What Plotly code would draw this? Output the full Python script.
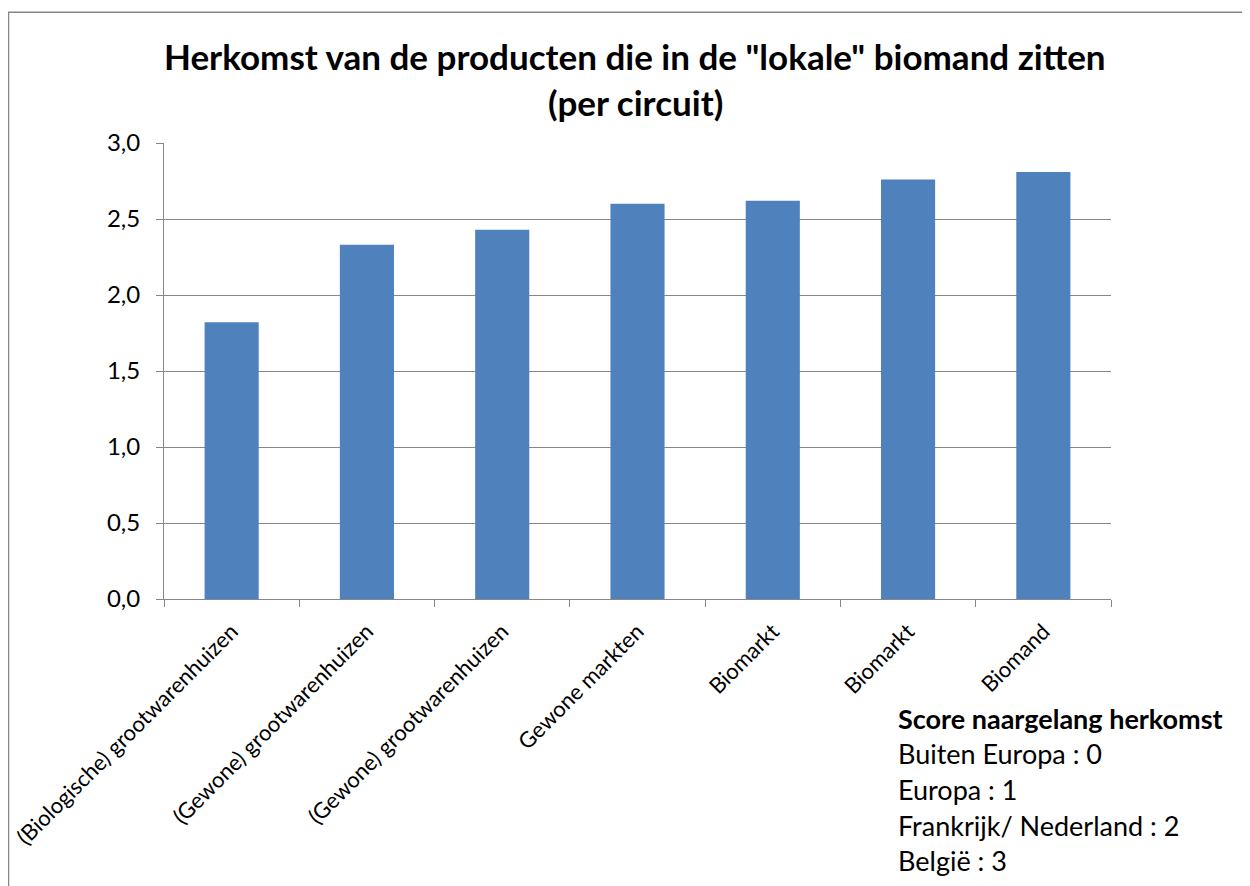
import plotly.graph_objects as go

categories = [
    "(Biologische) grootwarenhuizen",
    "(Gewone) grootwarenhuizen",
    "(Gewone) grootwarenhuizen",
    "Gewone markten",
    "Biomarkt",
    "Biomarkt",
    "Biomand",
]
values = [1.82, 2.33, 2.43, 2.60, 2.62, 2.76, 2.81]
y_ticks = [0.0, 0.5, 1.0, 1.5, 2.0, 2.5, 3.0]
title_lines = ['Herkomst van de producten die in de "lokale" biomand zitten', "(per circuit)"]
note_title = "Score naargelang herkomst"
note_lines = ["Buiten Europa : 0", "Europa : 1", "Frankrijk/ Nederland : 2", "België : 3"]

FONT = "Lato"
GRID = "#878787"
positions = list(range(len(categories)))
boundaries = [p - 0.5 for p in positions] + [positions[-1] + 0.5]

# page offset (browser body margin)
OFF = 8
W, H = 1242, 878
PL, PR, PT, PB = 164, 1111, 142.5, 599.5  # plot area in page pixels
L, T = PL - OFF, PT - OFF
R = W - (PR - OFF)
B = H - (PB - OFF)
pw, ph = W - L - R, H - T - B


def px_x(x):
    # x given in page (screenshot) pixels
    return (x - OFF - L) / pw


def px_y(y):
    return (H - B - (y - OFF)) / ph


fig = go.Figure(
    go.Bar(
        x=positions,
        y=values,
        marker=dict(color="#4F81BD", line=dict(width=0)),
        width=0.40,
    )
)

fig.update_layout(
    width=W,
    height=H,
    margin=dict(l=L, r=R, t=T, b=B, pad=0, autoexpand=False),
    paper_bgcolor="white",
    plot_bgcolor="white",
    separators=",.",
    showlegend=False,
    font=dict(family=FONT, color="black"),
    xaxis=dict(
        automargin=False,
        range=[-0.5, len(categories) - 0.5],
        tickmode="array",
        tickvals=positions,
        ticktext=categories,
        tickangle=-45,
        ticks="",
        ticklabelstandoff=10,
        ticklabeloverflow="allow",
        showgrid=False,
        showline=True,
        linecolor=GRID,
        linewidth=1,
        tickfont=dict(family=FONT, size=22, color="black"),
        minor=dict(tickmode="array", tickvals=boundaries, ticks="outside", ticklen=7,
                   tickcolor=GRID, tickwidth=1, showgrid=False),
        zeroline=False,
    ),
    yaxis=dict(
        automargin=False,
        range=[0, 3.0],
        tickmode="array",
        tickvals=y_ticks,
        tickformat=".1f",
        ticks="outside",
        ticklen=7,
        tickcolor=GRID,
        showgrid=True,
        gridcolor=GRID,
        gridwidth=1,
        showline=True,
        linecolor=GRID,
        linewidth=1,
        zeroline=False,
        ticklabelstandoff=11,
        tickfont=dict(family=FONT, size=24, color="black"),
    ),
)

annotations = []
for text, yy in zip(title_lines, [55, 101]):
    annotations.append(dict(
        x=px_x(635), y=px_y(yy), xref="paper", yref="paper", xanchor="center", yanchor="middle",
        text="<b>" + text + "</b>", showarrow=False,
        font=dict(family=FONT, size=35, color="black"),
    ))
annotations.append(dict(
    x=px_x(896), y=px_y(719), xref="paper", yref="paper", xanchor="left", yanchor="middle",
    text="<b>" + note_title + "</b>", showarrow=False,
    font=dict(family=FONT, size=27, color="black"),
))
for i, line in enumerate(note_lines):
    annotations.append(dict(
        x=px_x(896), y=px_y(754 + 36 * i), xref="paper", yref="paper", xanchor="left", yanchor="middle",
        text=line, showarrow=False,
        font=dict(family=FONT, size=27, color="black"),
    ))
fig.update_layout(annotations=annotations)

fig.add_shape(
    type="rect", xref="paper", yref="paper",
    x0=px_x(8.5), x1=px_x(1270), y0=px_y(11.5), y1=px_y(910),
    line=dict(color="#868686", width=1.5), fillcolor="rgba(0,0,0,0)", layer="below",
)

fig.write_html("out.html")
